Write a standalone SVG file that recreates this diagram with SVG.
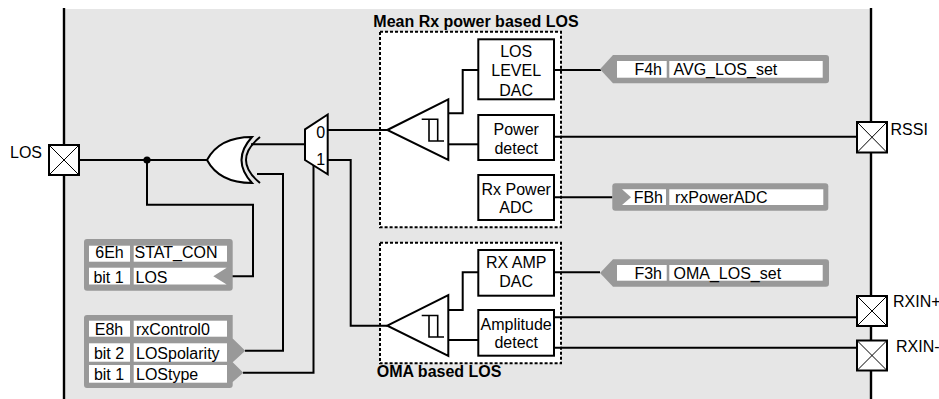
<svg xmlns="http://www.w3.org/2000/svg" width="939" height="399" viewBox="0 0 939 399">
<style>
text{font-family:"Liberation Sans",Arial,sans-serif;font-size:16px;fill:#000}
.b{font-weight:bold}
.m{text-anchor:middle}
.e{text-anchor:end}
.box{fill:#fff;stroke:#000;stroke-width:2}
.dash{fill:#fff;stroke:#000;stroke-width:2;stroke-dasharray:3 2}
.reg{fill:#999;stroke:none}
.cell{fill:#fff;stroke:none}
.w{fill:none;stroke:#000;stroke-width:2}
.x{fill:none;stroke:#000;stroke-width:1}
.border{stroke:#000;stroke-width:2.4}
</style>
<rect x="64" y="9" width="807" height="390" fill="#e6e6e6"/>
<line class="border" x1="64" y1="8" x2="64" y2="399"/>
<line class="border" x1="871" y1="8" x2="871" y2="399"/>

<g id="mean-los-group">
<rect class="dash" x="380" y="31.7" width="181" height="195.6"/>
<text class="b m" x="476" y="26.7">Mean Rx power based LOS</text>
</g>
<g id="oma-los-group">
<rect class="dash" x="380" y="242.7" width="181" height="120.6"/>
<text class="b" x="376.7" y="376.5">OMA based LOS</text>
</g>

<g id="connectors">
<path class="w" d="M79,160 H207"/>
<circle cx="147" cy="160" r="3.6" fill="#000"/>
<path class="w" d="M147,160 V204.7 H253 V276.3 H230"/>
<path class="w" d="M251,144.3 H305"/>
<path class="w" d="M257,174 H283 V350.7 H245"/>
<path class="w" d="M313.5,165 V372.7 H243"/>
<path class="w" d="M328,130 H387"/>
<path class="w" d="M328,160 H350.7 V325.7 H387"/>
<path class="w" d="M448,113.3 H462.7 V70 H478.3"/>
<path class="w" d="M448,144.3 H478.3"/>
<path class="w" d="M554,70 H601"/>
<path class="w" d="M554,136.7 H857"/>
<path class="w" d="M554,197.3 H612.5"/>
<path class="w" d="M448,310 H462.7 V272.3 H478.3"/>
<path class="w" d="M448,340 H478.3"/>
<path class="w" d="M554,272.3 H600"/>
<path class="w" d="M554,317.3 H857"/>
<path class="w" d="M554,347.7 H857"/>
</g>

<g id="pad-los">
<rect class="box" x="49" y="145" width="30" height="30"/>
<path class="x" d="M49,145 L79,175 M79,145 L49,175"/>
<text class="e" x="42" y="157.5">LOS</text>
</g>
<g id="pad-rssi">
<rect class="box" x="857" y="122" width="30" height="30.5"/>
<path class="x" d="M857,122 L887,152.5 M887,122 L857,152.5"/>
<text x="890.5" y="135">RSSI</text>
</g>
<g id="pad-rxinp">
<rect class="box" x="857" y="296" width="30" height="30"/>
<path class="x" d="M857,296 L887,326 M887,296 L857,326"/>
<text x="893" y="307.3">RXIN+</text>
</g>
<g id="pad-rxinn">
<rect class="box" x="857" y="340.5" width="30" height="30"/>
<path class="x" d="M857,340.5 L887,370.5 M887,340.5 L857,370.5"/>
<text x="896" y="352">RXIN-</text>
</g>

<g id="xor-gate">
<path class="box" d="M252,137 C230,137 215,145 207,160 C215,175 230,183 252,183 Q231,160 252,137 Z"/>
<path class="w" d="M260,137 Q232,160 260,183"/>
</g>

<g id="mux">
<path class="box" d="M305,129.3 L327.7,114.5 V174.3 L305,160 Z"/>
<text x="316.3" y="137.6">0</text>
<text x="316.3" y="165">1</text>
</g>

<g id="comparator-mean">
<path class="box" d="M387.3,130 L448.3,99.3 V160 Z"/>
<path class="x" style="stroke-width:1.6" d="M421.7,119.3 H437.7 V141 M429,119.3 V141 H444"/>
</g>
<g id="comparator-oma">
<path class="box" d="M387.3,325.7 L448.3,295 V356 Z"/>
<path class="x" style="stroke-width:1.6" d="M421.7,315.5 H437.7 V337 M429,315.5 V337 H444"/>
</g>

<g id="los-level-dac">
<rect class="box" x="478.3" y="39.3" width="75.7" height="60"/>
<text class="m" x="516.2" y="56.7">LOS</text>
<text class="m" x="516.2" y="76">LEVEL</text>
<text class="m" x="516.2" y="95.5">DAC</text>
</g>
<g id="power-detect">
<rect class="box" x="478.3" y="115" width="75.7" height="45"/>
<text class="m" x="516.2" y="135">Power</text>
<text class="m" x="516.2" y="154">detect</text>
</g>
<g id="rx-power-adc">
<rect class="box" x="478.3" y="175" width="75.7" height="45"/>
<text class="m" x="516.2" y="195">Rx Power</text>
<text class="m" x="516.2" y="213.3">ADC</text>
</g>
<g id="rx-amp-dac">
<rect class="box" x="478.3" y="250" width="75.7" height="45.7"/>
<text class="m" x="516.2" y="267.7">RX AMP</text>
<text class="m" x="516.2" y="287">DAC</text>
</g>
<g id="amplitude-detect">
<rect class="box" x="478.3" y="310" width="75.7" height="45.7"/>
<text class="m" x="516.2" y="330">Amplitude</text>
<text class="m" x="516.2" y="348.3">detect</text>
</g>

<g id="reg-f4h">
<path class="reg" d="M613,55 H826 Q829,55 829,58 V80.3 Q829,83.3 826,83.3 H613 L600,69.2 Z"/>
<rect class="cell" x="617" y="61" width="49.7" height="16.7"/>
<rect class="cell" x="669.3" y="61" width="153.4" height="16.7"/>
<text class="e" x="662" y="75">F4h</text>
<text x="673.5" y="75">AVG_LOS_set</text>
</g>
<g id="reg-fbh">
<rect class="reg" x="612.3" y="183.3" width="216" height="27.4" rx="3"/>
<path class="cell" d="M622,189.3 H666 V205 H622 L631,197.2 Z"/>
<rect class="cell" x="669.3" y="189.3" width="154" height="15.7"/>
<text class="e" x="663" y="203.3">FBh</text>
<text x="675" y="203.3">rxPowerADC</text>
</g>
<g id="reg-f3h">
<path class="reg" d="M613,259.3 H826 Q829,259.3 829,262.3 V283.7 Q829,286.7 826,286.7 H613 L600,273 Z"/>
<rect class="cell" x="617" y="265" width="49.7" height="15.7"/>
<rect class="cell" x="669.3" y="265" width="153.4" height="15.7"/>
<text class="e" x="662" y="279">F3h</text>
<text x="673.5" y="279">OMA_LOS_set</text>
</g>

<g id="reg-6eh">
<rect class="reg" x="84" y="239" width="148.7" height="51.7" rx="3"/>
<rect class="cell" x="89" y="245.7" width="41" height="16"/>
<rect class="cell" x="133.7" y="245.7" width="93.3" height="16"/>
<rect class="cell" x="89" y="267.7" width="41" height="16.8"/>
<path class="cell" d="M133.7,267.7 H226.7 L213.3,276.3 L226.7,284.5 H133.7 Z"/>
<text class="m" x="109.5" y="258.3">6Eh</text>
<text x="134.5" y="258.3">STAT_CON</text>
<text class="m" x="108.5" y="283">bit 1</text>
<text x="135.5" y="283">LOS</text>
</g>
<g id="reg-e8h">
<path class="reg" d="M87,315 H232.7 V338.5 L245.3,350.7 L232.7,362.2 L243.3,372.7 L232.7,382 V385 Q232.7,388 229.7,388 H87 Q84,388 84,385 V318 Q84,315 87,315 Z"/>
<rect class="cell" x="89" y="320.7" width="41" height="16"/>
<rect class="cell" x="133.7" y="320.7" width="93.3" height="16"/>
<rect class="cell" x="89" y="343.3" width="41" height="18.4"/>
<rect class="cell" x="133.7" y="343.3" width="93.3" height="18.4"/>
<rect class="cell" x="89" y="365" width="41" height="17.7"/>
<rect class="cell" x="133.7" y="365" width="93.3" height="17.7"/>
<text class="m" x="109" y="335">E8h</text>
<text x="136" y="335">rxControl0</text>
<text class="m" x="109" y="359.3">bit 2</text>
<text x="136" y="359.3">LOSpolarity</text>
<text class="m" x="109" y="380">bit 1</text>
<text x="136" y="380">LOStype</text>
</g>
</svg>
